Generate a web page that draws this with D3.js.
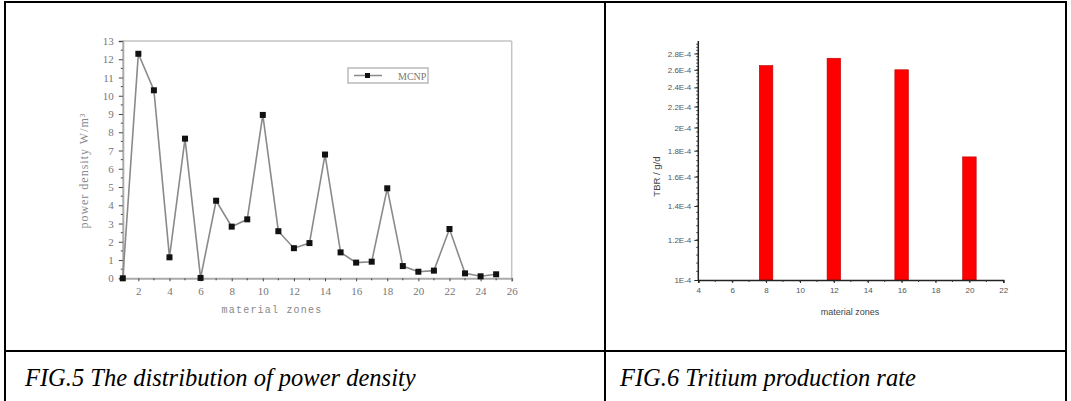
<!DOCTYPE html>
<html>
<head>
<meta charset="utf-8">
<script src="https://cdn.jsdelivr.net/npm/d3@7"></script>
<style>
  body { margin: 0; background: #fff; }
  svg { display: block; }
</style>
</head>
<body>
<script>
// ---- data ----
var zones = [1, 2, 3, 4, 5, 6, 7, 8, 9, 10, 11, 12, 13, 14, 15, 16, 17, 18, 19, 20, 21, 22, 23, 24, 25];
var powerDensity = [0, 12.3, 10.3, 1.15, 7.65, 0.02, 4.25, 2.83, 3.23, 8.95, 2.58, 1.65, 1.93, 6.78, 1.42, 0.86, 0.91, 4.93, 0.67, 0.36, 0.42, 2.7, 0.27, 0.11, 0.22];
var powerXTicks = [2, 4, 6, 8, 10, 12, 14, 16, 18, 20, 22, 24, 26];
var powerYTicks = [0, 1, 2, 3, 4, 5, 6, 7, 8, 9, 10, 11, 12, 13];

var tbrZones = [8, 12, 16, 20];
var tbrValues = [2.65e-4, 2.74e-4, 2.60e-4, 1.75e-4];
var tbrXTicks = [4, 6, 8, 10, 12, 14, 16, 18, 20, 22];
var tbrYTicks = [1e-4, 1.2e-4, 1.4e-4, 1.6e-4, 1.8e-4, 2e-4, 2.2e-4, 2.4e-4, 2.6e-4, 2.8e-4];
var tbrYLabels = ["1E-4", "1.2E-4", "1.4E-4", "1.6E-4", "1.8E-4", "2E-4", "2.2E-4", "2.4E-4", "2.6E-4", "2.8E-4"];

var captions = ["FIG.5 The distribution of power density", "FIG.6 Tritium production rate"];

var svg = d3.select("body").append("svg")
    .attr("width", 1071)
    .attr("height", 401);

// ---- table frame ----
var frame = svg.append("g").attr("stroke", "#000").attr("stroke-width", 2);
frame.append("line").attr("x1", 5).attr("x2", 1066).attr("y1", 2).attr("y2", 2);
frame.append("line").attr("x1", 5).attr("x2", 1066).attr("y1", 351).attr("y2", 351);
frame.append("line").attr("x1", 5).attr("x2", 5).attr("y1", 1).attr("y2", 401);
frame.append("line").attr("x1", 605).attr("x2", 605).attr("y1", 1).attr("y2", 401);
frame.append("line").attr("x1", 1066).attr("x2", 1066).attr("y1", 1).attr("y2", 401);

svg.selectAll("text.caption")
  .data(captions)
  .enter().append("text")
    .attr("class", "caption")
    .attr("x", (d, i) => i == 0 ? 25 : 620)
    .attr("y", 386)
    .style("font-family", "'Liberation Serif', 'Times New Roman', serif")
    .style("font-style", "italic")
    .style("font-size", "24.5px")
    .attr("fill", "#000")
    .text(d => d);

// ---- FIG.5 : power density line chart ----
var x1 = d3.scaleLinear().domain([1, 26]).range([122.8, 511.7]);
var y1 = d3.scaleLinear().domain([0, 13]).range([278.3, 41]);
var serif = "'Liberation Serif', 'Times New Roman', serif";
var grey = "#8a8a8a";

var g1 = svg.append("g");

// top & right frame of the plot
g1.append("line").attr("x1", x1(1)).attr("x2", x1(26)).attr("y1", y1(13)).attr("y2", y1(13))
  .attr("stroke", "#c4c4c4").attr("stroke-width", 1.5);
g1.append("line").attr("x1", x1(26)).attr("x2", x1(26)).attr("y1", y1(13)).attr("y2", y1(0))
  .attr("stroke", "#c4c4c4").attr("stroke-width", 1.5);

var xAxis1 = g1.append("g")
    .attr("transform", "translate(0," + y1(0) + ")")
    .call(d3.axisBottom(x1).tickValues(powerXTicks).tickSize(3).tickPadding(6).tickFormat(d3.format("d")));
var yAxis1 = g1.append("g")
    .attr("transform", "translate(" + x1(1) + ",0)")
    .call(d3.axisLeft(y1).tickValues(powerYTicks).tickSize(4).tickPadding(5).tickFormat(d3.format("d")));

// minor ticks
g1.append("g").selectAll("line")
  .data(d3.range(1, 26, 2))
  .enter().append("line")
    .attr("x1", d => x1(d)).attr("x2", d => x1(d))
    .attr("y1", y1(0)).attr("y2", y1(0) + 2)
    .attr("stroke", "#444");
g1.append("g").selectAll("line")
  .data(d3.range(0.5, 13, 1))
  .enter().append("line")
    .attr("x1", x1(1) - 2).attr("x2", x1(1))
    .attr("y1", d => y1(d)).attr("y2", d => y1(d))
    .attr("stroke", "#444");

[xAxis1, yAxis1].forEach(function (a) {
  a.select(".domain").attr("stroke", "#aaa").attr("stroke-width", 2);
  a.selectAll(".tick line").attr("stroke", "#444");
  a.selectAll(".tick text")
    .style("font-family", serif).style("font-size", "11px").attr("fill", "#777");
});

var line1 = d3.line()
  .x((d, i) => x1(zones[i]))
  .y(d => y1(d));

g1.append("path")
  .datum(powerDensity)
  .attr("fill", "none")
  .attr("stroke", grey)
  .attr("stroke-width", 1.6)
  .attr("d", line1);

g1.selectAll("rect.pt")
  .data(powerDensity)
  .enter().append("rect")
    .attr("class", "pt")
    .attr("x", (d, i) => x1(zones[i]) - 3)
    .attr("y", d => y1(d) - 3)
    .attr("width", 6)
    .attr("height", 6)
    .attr("fill", "#111");

// legend
var leg = g1.append("g").attr("transform", "translate(348,68)");
leg.append("rect").attr("width", 80).attr("height", 15)
  .attr("fill", "#fff").attr("stroke", "#bbb").attr("stroke-width", 1.5);
leg.append("line").attr("x1", 6).attr("x2", 34).attr("y1", 7.5).attr("y2", 7.5)
  .attr("stroke", grey).attr("stroke-width", 1.5);
leg.append("rect").attr("x", 17).attr("y", 5).attr("width", 5).attr("height", 5).attr("fill", "#111");
leg.append("text").attr("x", 50).attr("y", 11.5)
  .style("font-family", serif).style("font-size", "10px").attr("fill", "#777")
  .text("MCNP");

g1.append("text")
  .attr("transform", "translate(88," + y1(5.9) + ") rotate(-90)")
  .style("text-anchor", "middle")
  .style("font-family", serif).style("font-size", "12px").style("letter-spacing", "1px").attr("fill", "#888")
  .text("power density  W/m³");

g1.append("text")
  .attr("x", 272).attr("y", 313)
  .style("text-anchor", "middle")
  .style("font-family", "'Liberation Mono', 'Courier New', monospace")
  .style("font-size", "10px").style("letter-spacing", "1.2px").attr("fill", "#888")
  .text("material zones");

// ---- FIG.6 : tritium production bar chart (log y) ----
var x2 = d3.scaleLinear().domain([4, 22]).range([698.3, 1003.3]);
var y2 = d3.scaleLog().domain([1e-4, 2.95e-4]).range([280, 42]);
var sans = "'Liberation Sans', Arial, sans-serif";

var g2 = svg.append("g");

g2.selectAll("rect.bar")
  .data(tbrValues)
  .enter().append("rect")
    .attr("class", "bar")
    .attr("x", (d, i) => x2(tbrZones[i] - 0.4))
    .attr("y", d => y2(d))
    .attr("width", (d, i) => x2(tbrZones[i] + 0.4) - x2(tbrZones[i] - 0.4))
    .attr("height", d => y2(1e-4) - y2(d))
    .attr("fill", "#f00")
    .attr("stroke", "#b00")
    .attr("stroke-width", 0.6);

var xAxis2 = g2.append("g")
    .attr("transform", "translate(0," + y2(1e-4) + ")")
    .call(d3.axisBottom(x2).tickValues(tbrXTicks).tickSize(3).tickPadding(4).tickFormat(d3.format("d")));
var yAxis2 = g2.append("g")
    .attr("transform", "translate(" + x2(4) + ",0)")
    .call(d3.axisLeft(y2).tickValues(tbrYTicks).tickSize(4).tickPadding(3)
      .tickFormat((d, i) => tbrYLabels[i]));

// minor ticks
g2.append("g").selectAll("line")
  .data(d3.range(5, 22, 1))
  .enter().append("line")
    .attr("x1", d => x2(d)).attr("x2", d => x2(d))
    .attr("y1", y2(1e-4)).attr("y2", y2(1e-4) + 2)
    .attr("stroke", "#333");
g2.append("g").selectAll("line")
  .data(d3.range(1.04, 2.95, 0.04).map(v => v * 1e-4))
  .enter().append("line")
    .attr("x1", x2(4) - 2).attr("x2", x2(4))
    .attr("y1", d => y2(d)).attr("y2", d => y2(d))
    .attr("stroke", "#333");

[xAxis2, yAxis2].forEach(function (a) {
  a.select(".domain").attr("stroke", "#222").attr("stroke-width", 1.5);
  a.selectAll(".tick line").attr("stroke", "#222");
  a.selectAll(".tick text")
    .style("font-family", sans).style("font-size", "8px").attr("fill", "#555");
});
yAxis2.select(".domain").attr("d", "M0," + y2(1e-4) + "V" + 41);

g2.append("text")
  .attr("transform", "translate(660," + y2(1.6e-4) + ") rotate(-90)")
  .style("text-anchor", "middle")
  .style("font-family", sans).style("font-size", "9.5px").attr("fill", "#444")
  .text("TBR / g/d");

g2.append("text")
  .attr("x", 850).attr("y", 315)
  .style("text-anchor", "middle")
  .style("font-family", sans).style("font-size", "9px").attr("fill", "#444")
  .text("material zones");
</script>
</body>
</html>
